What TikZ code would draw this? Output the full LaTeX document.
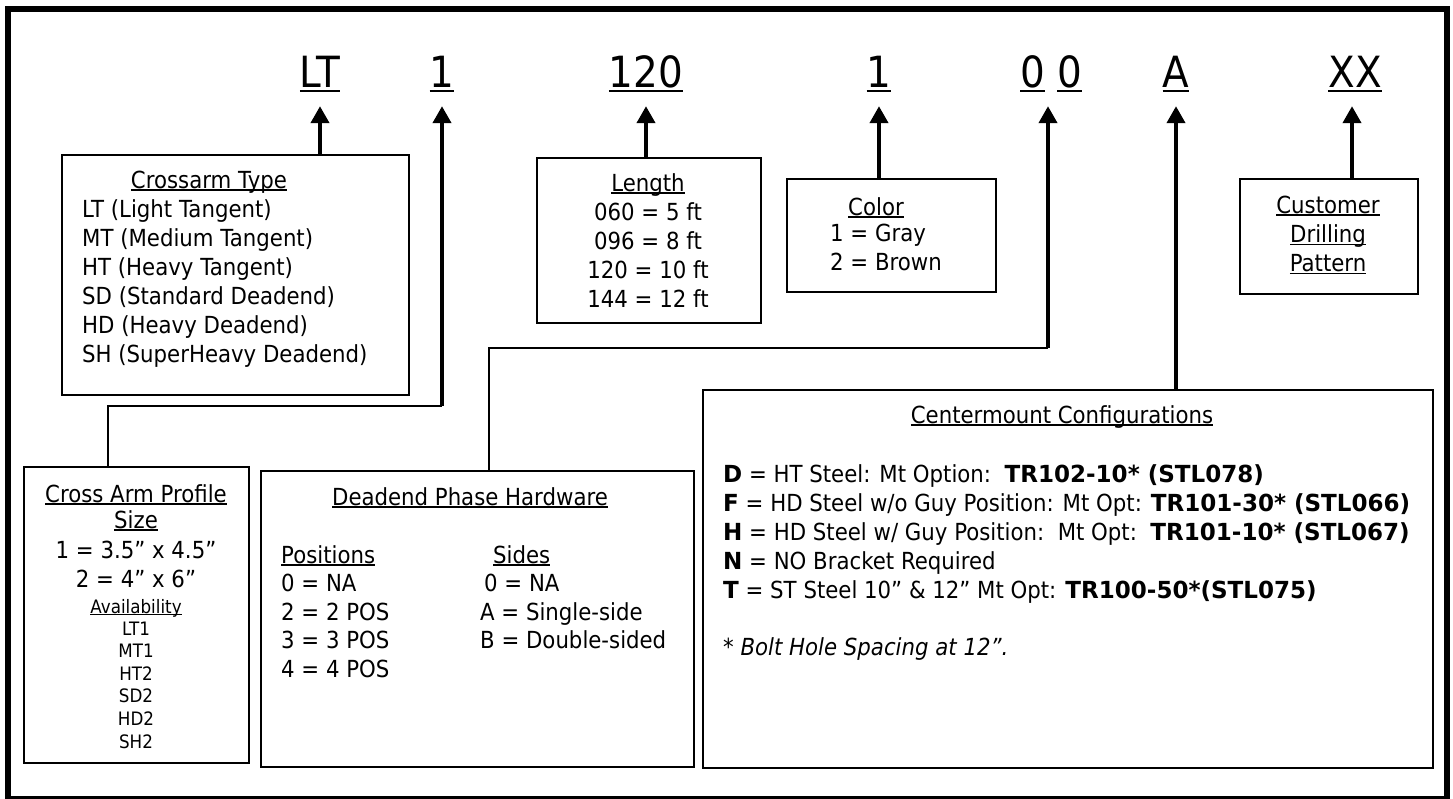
\documentclass[tikz,border=0pt]{standalone}
\usepackage{fontspec}
\setmainfont{DejaVu Sans}[FakeStretch=0.905, BoldFeatures={FakeStretch=0.98}]
\usetikzlibrary{arrows.meta, positioning}

% underline that ignores descenders
\newcommand\uln[1]{\setbox0\hbox{#1}\rlap{\rule[-0.12em]{\wd0}{0.06em}}\box0\relax}

\begin{document}
\begin{tikzpicture}[x=1pt, y=-1pt,
  infobox/.style={draw, line width=2.4pt, anchor=north west, inner sep=0pt},
  codetext/.style={font=\fontsize{43}{48}\selectfont, inner sep=0pt, anchor=base},
  lbl/.style={font=\fontsize{23.5}{28}\selectfont, inner sep=0pt, anchor=base west},
  clbl/.style={lbl, anchor=base},
  smalllbl/.style={font=\fontsize{18.5}{22}\selectfont, inner sep=0pt, anchor=base},
  codearrow/.style={line width=4pt, -{Triangle[length=17pt, width=18pt]}, shorten >=13.8pt},
  elbow/.style={line width=2.5pt}]
  \useasboundingbox (0,0) rectangle (1453,798);

  % Outer frame
  \draw[line width=5.5pt] (8,9) rectangle (1447,798.5);

  % Part number
  \node[codetext] (lt)   at (320,87)  {\uln{LT}};
  \node[codetext] (arm)  at (442,87)  {\uln{1}};
  \node[codetext] (len)  at (646,87)  {\uln{120}};
  \node[codetext] (col)  at (879,87)  {\uln{1}};
  \node[codetext] (dead) at (1051,87) {\uln{0} \uln{0}};
  \node[codetext] (cmt)  at (1176,87) {\uln{A}};
  \node[codetext] (cust) at (1355,87) {\uln{XX}};

  % Crossarm type
  \node[infobox, minimum width=347pt, minimum height=240pt] (crossarm) at (61,154) {};
  \node[clbl] (crossarm-t) at (209,188) {\uln{Crossarm Type}};
  \foreach \i/\txt in {0/LT (Light Tangent), 1/MT (Medium Tangent),
    2/HT (Heavy Tangent), 3/SD (Standard Deadend), 4/HD (Heavy Deadend),
    5/SH (SuperHeavy Deadend)}{
    \node[lbl] (crossarm-\i) at (82,217.5+29*\i) {\txt};
  }

  % Length
  \node[infobox, minimum width=224pt, minimum height=165pt] (length) at (536,157) {};
  \node[clbl] (length-t) at (648,191) {\uln{Length}};
  \foreach \i/\txt in {0/060 = 5 ft, 1/096 = 8 ft, 2/120 = 10 ft, 3/144 = 12 ft}{
    \node[clbl] (length-\i) at (648,220.7+28.9*\i) {\txt};
  }

  % Color
  \node[infobox, minimum width=209pt, minimum height=113pt] (color) at (786,178) {};
  \node[clbl] (color-t) at (876,215) {\uln{Color}};
  \node[lbl] (color-0) at (830,241) {1 = Gray};
  \node[lbl] (color-1) at (830,270) {2 = Brown};

  % Customer drilling
  \node[infobox, minimum width=178pt, minimum height=115pt] (customer) at (1239,178) {};
  \foreach \i/\txt in {0/Customer, 1/Drilling, 2/Pattern}{
    \node[clbl] (customer-\i) at (1328,213+29.3*\i) {\uln{\txt}};
  }

  % Cross arm profile
  \node[infobox, minimum width=225pt, minimum height=296pt] (profile) at (23,466) {};
  \node[clbl] (profile-t) at (136,502) {\uln{Cross Arm Profile}};
  \node[clbl] (profile-s) at (136,528) {\uln{Size}};
  \node[clbl] (profile-0) at (136,558) {1 = 3.5” x 4.5”};
  \node[clbl] (profile-1) at (136,587) {2 = 4” x 6”};
  \node[smalllbl] (avail) at (136,613) {\uln{Availability}};
  \foreach \i/\txt in {0/LT1, 1/MT1, 2/HT2, 3/SD2, 4/HD2, 5/SH2}{
    \node[smalllbl] (avail-\i) at (136,635+22.6*\i) {\txt};
  }

  % Deadend phase hardware
  \node[infobox, minimum width=433pt, minimum height=296pt] (phase) at (260,470) {};
  \node[clbl] (phase-t) at (470,505) {\uln{Deadend Phase Hardware}};
  \node[lbl] (pos-t) at (281,563) {\uln{Positions}};
  \node[lbl] (side-t) at (493,563) {\uln{Sides}};
  \foreach \i/\txt in {0/0 = NA, 1/2 = 2 POS, 2/3 = 3 POS, 3/4 = 4 POS}{
    \node[lbl] (pos-\i) at (281,591.7+28.5*\i) {\txt};
  }
  \node[lbl] (side-0) at (484,591.7) {0 = NA};
  \node[lbl] (side-1) at (480,620.2) {A = Single-side};
  \node[lbl] (side-2) at (480,648.7) {B = Double-sided};

  % Centermount configurations
  \node[infobox, minimum width=730pt, minimum height=378pt] (center) at (702,389) {};
  \node[clbl] (center-t) at (1062,423) {\uln{Centermount Configurations}};
  \foreach \i/\txt in {
    0/{\textbf{D} = HT Steel: Mt Option:\ \ \textbf{TR102-10* (STL078)}},
    1/{\textbf{F} = HD Steel w/o Guy Position: Mt Opt: \textbf{TR101-30* (STL066)}},
    2/{\textbf{H} = HD Steel w/ Guy Position:\ \ Mt Opt:\ \ \textbf{TR101-10* (STL067)}},
    3/{\textbf{N} = NO Bracket Required},
    4/{\textbf{T} = ST Steel 10” \& 12” Mt Opt: \textbf{TR100-50*(STL075)}}}{
    \node[lbl] (center-\i) at (723,482+29*\i) {\txt};
  }
  \node[lbl] (center-note) at (723,655) {\textit{* Bolt Hole Spacing at 12”.}};

  % Connectors
  \path (arm.base) ++(0,319) coordinate (sizebend);
  \path (dead.base) ++(-3,261) coordinate (phasebend);
  \draw[codearrow] (lt |- crossarm.north) -- (lt.south);
  \draw[elbow] ([xshift=85pt]profile.north west) |- (sizebend);
  \draw[codearrow] (sizebend) -- (arm.south);
  \draw[codearrow] (len |- length.north) -- (len.south);
  \draw[codearrow] (col |- color.north) -- (col.south);
  \draw[elbow] ([xshift=229pt]phase.north west) |- (phasebend);
  \draw[codearrow] (phasebend) -- ([xshift=-3pt]dead.south);
  \draw[codearrow] (cmt |- center.north) -- (cmt.south);
  \draw[codearrow] ([xshift=-3pt]cust |- customer.north) -- ([xshift=-3pt]cust.south);
\end{tikzpicture}
\end{document}
